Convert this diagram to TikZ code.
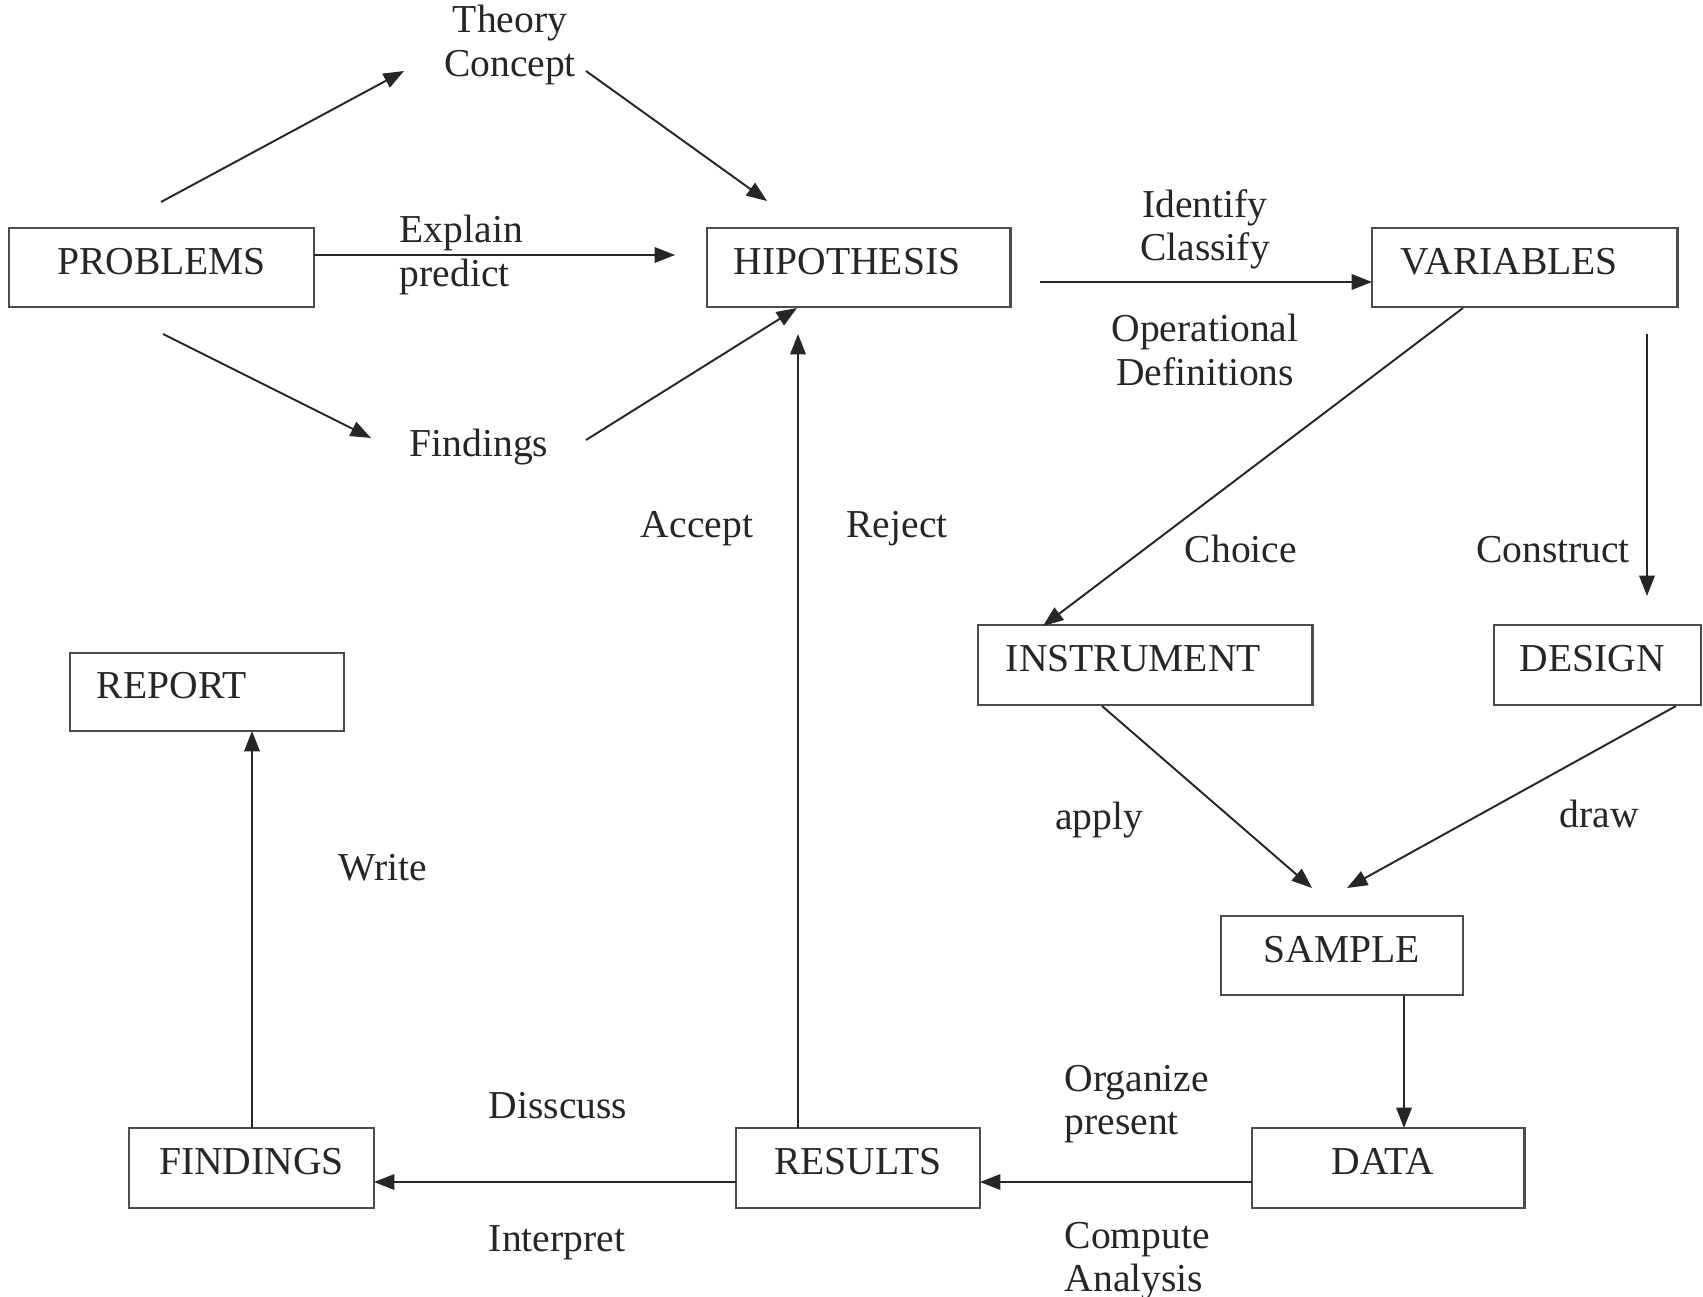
\documentclass[tikz,border=0pt]{standalone}
\usepackage{fontspec}
\setmainfont{Liberation Serif}
\usetikzlibrary{arrows.meta}
\begin{document}
\begin{tikzpicture}[x=0.01cm,y=-0.01cm,
  every node/.style={font=\fontsize{11.25}{12.3}\selectfont, text=black!85},
  box/.style={draw=black!70, line width=0.8pt, minimum height=0.79cm,
    text height=8pt, text depth=4.1pt, inner ysep=0pt},
  lbl/.style={inner sep=0pt, text height=7.6pt, text depth=2.2pt},
  mlbl/.style={inner sep=0pt, align=center},
  llbl/.style={inner sep=0pt, align=left, anchor=west},
  arr/.style={draw=black!85, line width=0.55pt, -{Triangle[length=5.8pt,width=4.4pt]}}]
\fill[white] (0,0) rectangle (1703,1297);
\useasboundingbox (0,0) rectangle (1703,1297);

% boxes
\node[box, inner xsep=0.2cm, text width=2.65cm, align=center] (prob) at (161.5,267.5) {PROBLEMS};
\node[box, inner xsep=0.27cm, text width=2.49cm, align=left] (hyp) at (858.5,267.5) {HIPOTHESIS};
\node[box, inner xsep=0.29cm, text width=2.47cm, align=left] (var) at (1524.5,267.5) {VARIABLES};
\node[box, minimum height=0.80cm, inner xsep=0.28cm, text width=2.78cm, align=left] (inst) at (1145,665) {INSTRUMENT};
\node[box, minimum height=0.80cm, inner xsep=0.26cm, text width=1.55cm, align=left] (des) at (1597.5,665) {DESIGN};
\node[box, minimum height=0.78cm, inner xsep=0.27cm, text width=2.20cm, align=left] (rep) at (207,692) {REPORT};
\node[box, inner xsep=0.2cm, text width=2.02cm, align=center] (samp) at (1342,955.5) {SAMPLE};
\node[box, minimum height=0.80cm, inner xsep=0.2cm, text width=2.05cm, align=center] (find) at (251.5,1168) {FINDINGS};
\node[box, minimum height=0.80cm, inner xsep=0.2cm, text width=2.04cm, align=center] (res) at (858,1168) {RESULTS};
\node[box, minimum height=0.80cm, inner xsep=0.80cm, text width=1.12cm, align=left] (data) at (1388,1168) {DATA};

% labels
\node[mlbl] (theory) at (510,45) {Theory\\Concept};
\node[llbl] (explain) at (399,255) {Explain\\predict};
\node[mlbl] (ident) at (1205,229) {Identify\\Classify};
\node[mlbl] (oper) at (1205,350) {Operational\\Definitions};
\node[lbl] (findl) at (479,447) {Findings};
\node[lbl] (acc) at (697,528) {Accept};
\node[lbl] (rej) at (897,528) {Reject};
\node[lbl] (choice) at (1241,553) {Choice};
\node[lbl] (constr) at (1553,553) {Construct};
\node[lbl] (apply) at (1099,820) {apply};
\node[lbl] (drawl) at (1599,818) {draw};
\node[lbl] (write) at (383,871) {Write};
\node[lbl] (disc) at (558,1109) {Disscuss};
\node[lbl] (interp) at (557,1242) {Interpret};
\node[llbl] (organ) at (1064,1104) {Organize\\present};
\node[llbl] (comp) at (1064,1261) {Compute\\Analysis};

% connector end points
\coordinate (a1s) at (161,202);   \coordinate (a1e) at (404,71);
\coordinate (a2s) at (586,71);    \coordinate (a2e) at (767,201);
\coordinate (a3s) at (314,255);   \coordinate (a3e) at (675,255);
\coordinate (a4s) at (163,334);   \coordinate (a4e) at (371,438);
\coordinate (a5s) at (586,440);   \coordinate (a5e) at (797,308);
\coordinate (a6s) at (1040,282);  \coordinate (a6e) at (1372,282);
\coordinate (a7s) at (1463,308);  \coordinate (a7e) at (1043,626);
\coordinate (a8s) at (1647,334);  \coordinate (a8e) at (1647,596);
\coordinate (a9s) at (1102,706);  \coordinate (a9e) at (1312,888);
\coordinate (a10s) at (1676,706); \coordinate (a10e) at (1347,888);
\coordinate (a11s) at (1404,996); \coordinate (a11e) at (1404,1128);
\coordinate (a12s) at (1252,1182);\coordinate (a12e) at (980,1182);
\coordinate (a13s) at (736,1182); \coordinate (a13e) at (374,1182);
\coordinate (a14s) at (798,1128); \coordinate (a14e) at (798,334);
\coordinate (a15s) at (252,1128); \coordinate (a15e) at (252,731);

\draw[arr] (a1s) -- (a1e);
\draw[arr] (a2s) -- (a2e);
\draw[arr] (a3s) -- (a3e);
\draw[arr] (a4s) -- (a4e);
\draw[arr] (a5s) -- (a5e);
\draw[arr] (a6s) -- (a6e);
\draw[arr] (a7s) -- (a7e);
\draw[arr] (a8s) -- (a8e);
\draw[arr] (a9s) -- (a9e);
\draw[arr] (a10s) -- (a10e);
\draw[arr] (a11s) -- (a11e);
\draw[arr] (a12s) -- (a12e);
\draw[arr] (a13s) -- (a13e);
\draw[arr] (a14s) -- (a14e);
\draw[arr] (a15s) -- (a15e);
\end{tikzpicture}
\end{document}
